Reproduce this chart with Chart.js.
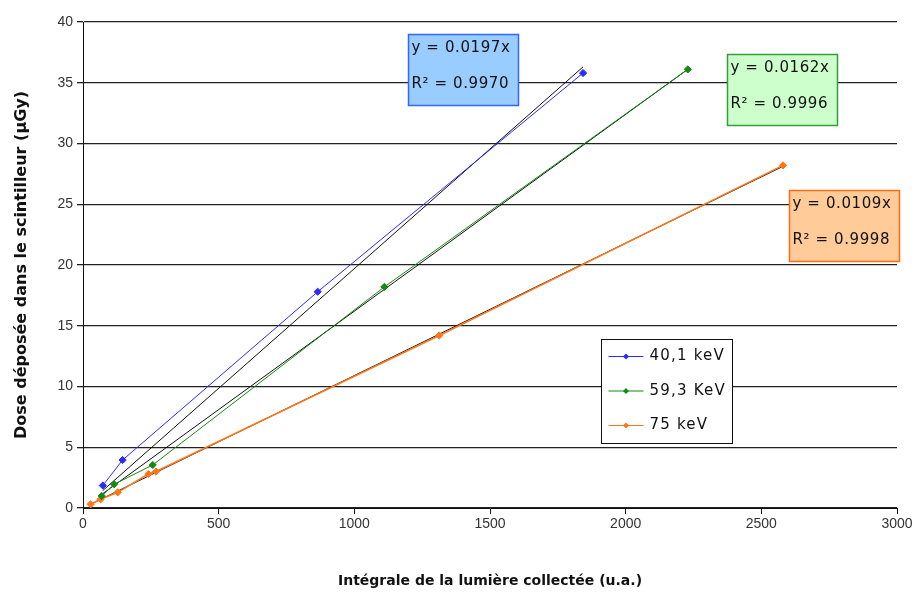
<!DOCTYPE html>
<html lang="fr">
    <head>
        <meta charset="UTF-8">
        <title>Dose déposée dans le scintilleur</title>
        <style>
            body {
                margin: 0;
                background-color: #ffffff;
            }
            #chart-container {
                position: absolute;
                top: 0;
                left: 0;
                width: 916px;
                height: 597px;
            }
        </style>
    </head>
    <body>
        <div id="chart-container">
            <canvas id="myChart" width="916" height="597"></canvas>
        </div>
        <script src="https://cdn.jsdelivr.net/npm/chart.js"></script>
        <script>
            //data
            let seriesNames = ['40,1 keV', '59,3 KeV', '75 keV'];
            let seriesColors = ['#2a2aff', '#138a13', '#ff7518'];

            let blueX = [73, 146, 865, 1843];
            let blueY = [1.85, 3.95, 17.8, 35.8];

            let greenX = [69, 115, 257, 1111, 2229];
            let greenY = [0.99, 1.95, 3.54, 18.2, 36.1];

            let orangeX = [28, 65, 128, 241, 269, 1313, 2580];
            let orangeY = [0.3, 0.72, 1.29, 2.8, 3.0, 14.2, 28.2];

            //trendlines (y = a*x) as written in the boxes
            let slopes = [0.0197, 0.0162, 0.0109];
            let rSquared = ['0.9970', '0.9996', '0.9998'];

            //box anchors in data units (left x, top y)
            let boxX = [1198, 2374, 2602];
            let boxY = [39.0, 37.4, 26.2];
            let boxFill = ['#99ccff', '#ccffcc', '#ffcc99'];
            let boxBorder = ['#3366ff', '#33a033', '#ff6a13'];

            let xTicks = [0, 500, 1000, 1500, 2000, 2500, 3000];
            let yTicks = [0, 5, 10, 15, 20, 25, 30, 35, 40];

            //build points
            function toPoints(xs, ys) {
                return xs.map((x, i) => ({x: x, y: ys[i]}));
            }
            let allX = [blueX, greenX, orangeX];
            let allY = [blueY, greenY, orangeY];

            let datasets = [];
            //black trendlines from min x to max x of every series
            slopes.forEach((a, i) => {
                let xmin = Math.min(...allX[i]);
                let xmax = Math.max(...allX[i]);
                datasets.push({
                    label: 'trend' + i,
                    data: [{x: xmin, y: a * xmin}, {x: xmax, y: a * xmax}],
                    borderColor: '#111111',
                    borderWidth: 1,
                    pointRadius: 0,
                    showLine: true,
                    order: 2
                });
            });
            seriesNames.forEach((name, i) => {
                datasets.push({
                    label: name,
                    data: toPoints(allX[i], allY[i]),
                    borderColor: seriesColors[i],
                    backgroundColor: seriesColors[i],
                    borderWidth: i === 2 ? 1.6 : 1,
                    pointStyle: 'rectRot',
                    pointRadius: 3.6,
                    pointBorderWidth: 1,
                    showLine: true,
                    order: 1
                });
            });

            //boxes with equation and legend
            const extras = {
                id: 'extras',
                afterDatasetsDraw(chart) {
                    const ctx = chart.ctx;
                    const xs = chart.scales.x;
                    const ys = chart.scales.y;
                    ctx.save();
                    ctx.textBaseline = 'middle';
                    ctx.textAlign = 'left';
                    ctx.font = '15px "DejaVu Sans", Verdana, sans-serif';
                    ctx.letterSpacing = '0.6px';
                    slopes.forEach((a, i) => {
                        let left = Math.round(xs.getPixelForValue(boxX[i])) + 0.5;
                        let top = Math.round(ys.getPixelForValue(boxY[i])) + 0.5;
                        let w = 110, h = 71;
                        ctx.fillStyle = boxFill[i];
                        ctx.fillRect(left, top, w, h);
                        ctx.strokeStyle = boxBorder[i];
                        ctx.lineWidth = 1.5;
                        ctx.strokeRect(left, top, w, h);
                        ctx.fillStyle = '#111111';
                        ctx.fillText('y = ' + a.toFixed(4) + 'x', left + 3, top + 14);
                        ctx.fillText('R² = ' + rSquared[i], left + 3, top + 50);
                    });

                    //legend box
                    let lx = 601.5, ly = 339.5, lw = 131, lh = 104;
                    ctx.fillStyle = '#ffffff';
                    ctx.fillRect(lx, ly, lw, lh);
                    ctx.strokeStyle = '#111111';
                    ctx.lineWidth = 1;
                    ctx.strokeRect(lx, ly, lw, lh);
                    ctx.letterSpacing = '1.2px';
                    seriesNames.forEach((name, i) => {
                        let yy = ly + 17 + i * 34.5;
                        ctx.strokeStyle = seriesColors[i];
                        ctx.lineWidth = 1;
                        ctx.beginPath();
                        ctx.moveTo(lx + 7, yy);
                        ctx.lineTo(lx + 42, yy);
                        ctx.stroke();
                        ctx.fillStyle = seriesColors[i];
                        ctx.beginPath();
                        ctx.moveTo(lx + 24.5, yy - 3);
                        ctx.lineTo(lx + 27.5, yy);
                        ctx.lineTo(lx + 24.5, yy + 3);
                        ctx.lineTo(lx + 21.5, yy);
                        ctx.closePath();
                        ctx.fill();
                        ctx.fillStyle = '#111111';
                        ctx.fillText(name, lx + 48, yy);
                    });
                    ctx.restore();
                }
            };

            Chart.defaults.font.family = '"Liberation Sans", Arial, sans-serif';
            Chart.defaults.color = '#222222';

            const config = {
                type: 'scatter',
                data: {datasets: datasets},
                options: {
                    responsive: false,
                    animation: false,
                    layout: {
                        padding: {top: 22, right: 19, left: 0, bottom: 0}
                    },
                    scales: {
                        x: {
                            type: 'linear',
                            min: 0,
                            max: 3000,
                            afterBuildTicks: scale => { scale.ticks = xTicks.map(v => ({value: v})); },
                            afterFit: scale => { scale.height = 89; },
                            ticks: {
                                font: {size: 14},
                                color: '#333333',
                                padding: 2,
                                maxRotation: 0,
                                callback: v => String(v)
                            },
                            grid: {
                                drawOnChartArea: false,
                                color: '#111111',
                                tickLength: 6
                            },
                            border: {color: '#111111', width: 1},
                            title: {
                                display: true,
                                text: 'Intégrale de la lumière collectée (u.a.)',
                                font: {family: '"DejaVu Sans", Verdana, sans-serif', size: 14, weight: 'bold'},
                                color: '#111111',
                                padding: {top: 0, bottom: 7}
                            }
                        },
                        y: {
                            type: 'linear',
                            min: 0,
                            max: 40,
                            afterBuildTicks: scale => { scale.ticks = yTicks.map(v => ({value: v})); },
                            afterFit: scale => { scale.width = 83; },
                            ticks: {
                                font: {size: 14},
                                color: '#333333',
                                padding: 4,
                                callback: v => String(v)
                            },
                            grid: {
                                color: '#222222',
                                lineWidth: 1.3,
                                tickLength: 6
                            },
                            border: {color: '#111111', width: 1},
                            title: {
                                display: true,
                                text: 'Dose déposée dans le scintilleur (µGy)',
                                font: {family: '"DejaVu Sans", Verdana, sans-serif', size: 16, weight: 'bold'},
                                color: '#111111',
                                padding: {top: 12, bottom: 0}
                            }
                        }
                    },
                    plugins: {
                        legend: {display: false},
                        tooltip: {enabled: false}
                    }
                },
                plugins: [extras]
            };

            const myChart = new Chart(document.getElementById('myChart'), config);
        </script>
    </body>
</html>
